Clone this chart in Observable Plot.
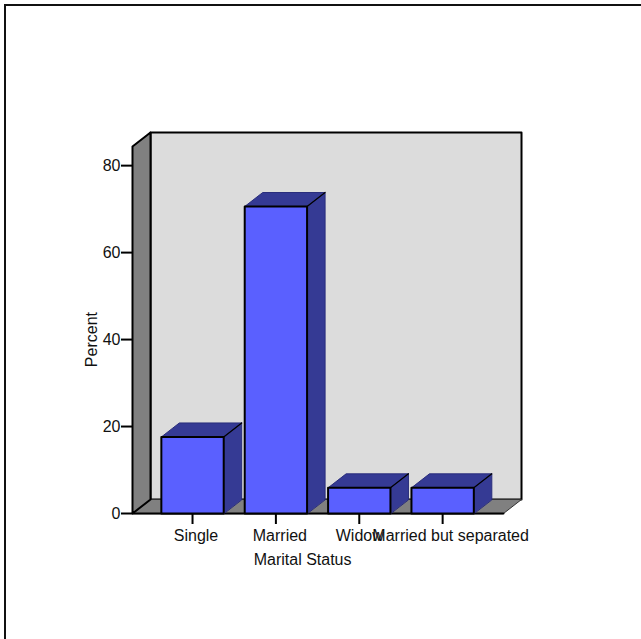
<!DOCTYPE html>
<html>
<head>
<meta charset="utf-8">
<script src="https://cdn.jsdelivr.net/npm/d3@7"></script>
<script src="https://cdn.jsdelivr.net/npm/@observablehq/plot@0.6"></script>
<style>
  html, body { margin: 0; padding: 0; background: #fff; overflow: hidden; }
  #chart { position: relative; width: 641px; height: 639px; }
  #chart svg { position: absolute; left: 0; top: 0; background: transparent; }
  #frame { position: absolute; left: 4px; top: 4px; right: 0; bottom: 0;
           border-left: 2px solid #111; border-top: 2px solid #111; }
</style>
</head>
<body>
<div id="chart"><div id="frame"></div></div>
<script>
const categories = ["Single", "Married", "Widow", "Married but separated"];
const percents = [17.6, 70.6, 5.9, 5.9];
const yTicks = [0, 20, 40, 60, 80];
const labelShifts = [3.5, 4, 0.5, 8];

// Oblique projection: the box depth expressed in scale units.
const depthX = 0.216;
const depthY = 3.22;
const halfBar = 0.374;
const xMin = -0.72, xMax = 3.73, yMax = 84.4;

// Builds closed polygons for Plot.line, one row per vertex.
const poly = (id, pts) => pts.map(([x, y]) => ({id, x, y}));
const face = (rows, options) =>
  Plot.line(rows, {x: "x", y: "y", z: "id", curve: "linear-closed", ...options});
const seg = (rows, options) =>
  Plot.line(rows, {x: "x", y: "y", z: "id", stroke: "#000", strokeWidth: 2, ...options});

const backWall = poly("back", [
  [xMin + depthX, depthY], [xMin + depthX, yMax + depthY],
  [xMax + depthX, yMax + depthY], [xMax + depthX, depthY]
]);
const leftWall = poly("left", [
  [xMin, 0], [xMin, yMax], [xMin + depthX, yMax + depthY], [xMin + depthX, depthY]
]);
const floor = poly("floor", [
  [xMin, 0], [xMin + depthX, depthY], [xMax + depthX, depthY], [xMax, 0]
]);

const barMarks = percents.flatMap((v, i) => {
  const l = i - halfBar, r = i + halfBar;
  return [
    face(poly("top" + i, [[l, v], [l + depthX, v + depthY], [r + depthX, v + depthY], [r, v]]),
      {fill: "#353a94", stroke: "#2a2e7c", strokeWidth: 1}),
    face(poly("side" + i, [[r, 0], [r, v], [r + depthX, v + depthY], [r + depthX, depthY]]),
      {fill: "#353a94", stroke: "#2a2e7c", strokeWidth: 1}),
    seg(poly("edge" + i, [[r, v], [r + depthX, v + depthY]]), {strokeWidth: 1.2}),
    face(poly("front" + i, [[l, 0], [l, v], [r, v], [r, 0]]),
      {fill: "#5a60ff", stroke: "#000", strokeWidth: 2})
  ];
});

const labelMarks = categories.map((c, i) =>
  Plot.text([c], {x: [i], y: [0], dx: labelShifts[i], dy: 22, fontSize: 16, fill: "#111", textAnchor: "middle"})
);

const chart = Plot.plot({
  width: 641,
  height: 639,
  marginLeft: 132,
  marginRight: 138,
  marginTop: 146,
  marginBottom: 126,
  style: {fontFamily: "'Liberation Sans', Arial, sans-serif", fontSize: "16px", color: "#111", background: "transparent"},
  x: {type: "linear", domain: [xMin, xMax], axis: null},
  y: {type: "linear", domain: [0, yMax], axis: null},
  marks: [
    face(backWall, {fill: "#dcdcdc", stroke: "#000", strokeWidth: 2}),
    face(floor, {fill: "#808080", stroke: "#333", strokeWidth: 1}),
    face(leftWall, {fill: "#808080", stroke: "#000", strokeWidth: 2}),
    seg(poly("base", [[xMin, 0], [xMax, 0]])),
    Plot.axisY({
      ticks: yTicks, tickSize: 11, tickPadding: 1, fontSize: 16, label: null,
      stroke: "#000", strokeWidth: 2, fill: "#111"
    }),
    ...barMarks,
    Plot.axisX({
      ticks: [0, 1, 2, 3], tickSize: 11, tickFormat: () => "", label: null, tickPadding: 0,
      stroke: "#000", strokeWidth: 2
    }),
    ...labelMarks,
    Plot.text(["Marital Status"], {x: [1.5], y: [0], dx: -15, dy: 46, fontSize: 16, fill: "#111"}),
    Plot.text(["Percent"], {x: [xMin], y: [40], dx: -41, rotate: -90, fontSize: 16, fill: "#111"})
  ]
});
document.getElementById("chart").appendChild(chart);
</script>
</body>
</html>
